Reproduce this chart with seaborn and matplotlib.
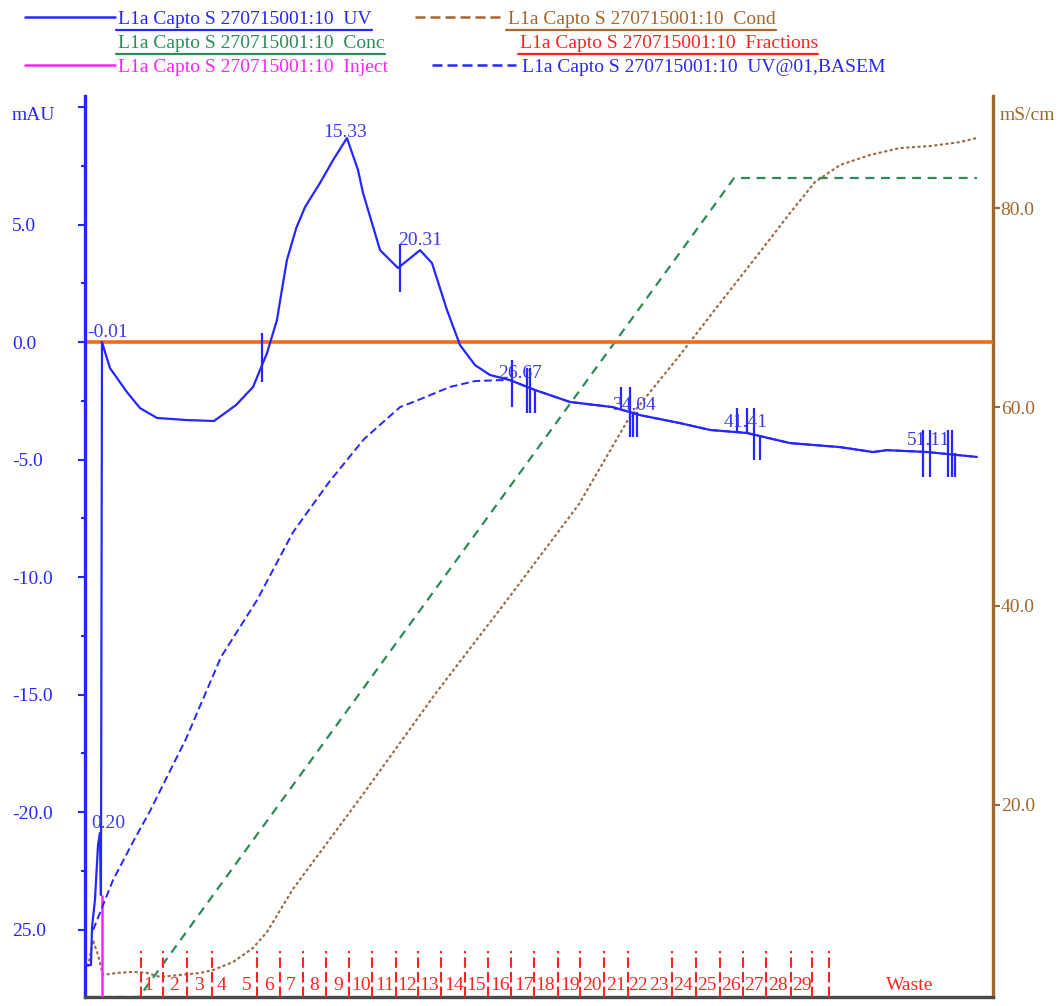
import matplotlib
matplotlib.use("Agg")
import matplotlib.pyplot as plt
import matplotlib.transforms as mtransforms
from matplotlib.lines import Line2D
import seaborn as sns

# ---------------- data ----------------
uv_ml = [-0.96, -0.70, -0.63, -0.44, -0.24, -0.11, -0.05, 0.02, 0.54, 1.65, 2.50, 3.61,
         5.57, 7.33, 8.77, 9.88, 10.79, 11.44, 11.76, 12.09, 12.70, 13.27, 14.25, 15.10,
         16.01, 16.73, 17.06, 18.17, 19.34, 20.78, 21.56, 22.54, 23.39, 24.37, 25.34,
         26.65, 28.28, 30.57, 33.37, 35.14, 37.75, 39.71, 42.12, 44.93, 48.19, 50.35,
         51.26, 53.87, 57.13]
uv_mau = [-26.51, -26.51, -24.89, -23.74, -21.40, -20.89, -23.53, 0.00, -1.11, -2.13, -2.81, -3.23,
          -3.32, -3.36, -2.68, -1.91, -0.47, 0.94, 2.21, 3.49, 4.85, 5.74, 6.77, 7.74,
          8.68, 7.32, 6.34, 3.91, 3.15, 3.91, 3.36, 1.36, -0.13, -0.98, -1.40,
          -1.62, -2.04, -2.55, -2.77, -3.11, -3.45, -3.74, -3.87, -4.30, -4.47, -4.68,
          -4.60, -4.68, -4.89]

basem_head_ml = [-0.56, 0.74, 2.11, 3.15, 5.50, 7.79, 10.14, 12.49, 14.84, 17.12, 19.47,
                 20.65, 22.73, 24.37, 26.00]
basem_head_mau = [-25.02, -22.89, -21.19, -19.96, -16.89, -13.40, -10.98, -8.09, -5.96, -4.13,
                  -2.77, -2.47, -1.91, -1.66, -1.62]

cond_ml = [-0.89, -0.57, -0.24, 0.08, 1.00, 2.04, 2.96, 3.81, 6.42, 7.28, 8.58, 9.88, 10.79,
           12.49, 17.12, 21.82, 26.46, 31.16, 34.42, 37.75, 40.36, 42.97, 44.93, 46.56,
           48.19, 50.15, 52.11, 54.07, 56.03, 57.13]
cond_mscm = [3.72, 6.43, 4.92, 2.91, 3.12, 3.22, 3.12, 2.71, 3.12, 3.42, 4.22, 5.63, 7.24,
             11.56, 21.21, 31.26, 40.60, 50.25, 58.89, 65.23, 70.45, 75.58, 79.50, 82.61,
             84.32, 85.33, 86.03, 86.23, 86.63, 87.04]

conc_ml = [-1.09, 2.44, 41.28, 57.13]
conc_val = [0.70, 0.70, 83.02, 83.02]

inject_ml = [0.02]
inject_top = [-23.53]

frac_lines_ml = [2.57, 4.00, 5.57, 7.20, 10.14, 11.64, 13.14, 14.64, 16.14, 17.64, 19.21,
                 20.65, 22.15, 23.72, 25.22, 26.72, 28.22, 29.78, 31.22, 32.79, 34.35,
                 37.23, 38.79, 40.36, 41.86, 43.36, 44.99, 46.36, 47.47]
frac_labels = ["1", "2", "3", "4", "5", "6", "7", "8", "9", "10", "11", "12", "13", "14",
               "15", "16", "17", "18", "19", "20", "21", "22", "23", "24", "25", "26", "27",
               "28", "29", "Waste"]
frac_label_ml = [3.06, 4.72, 6.35, 7.79, 9.46, 10.89, 12.32, 13.86, 15.42, 16.96, 18.49,
                 19.93, 21.36, 23.00, 24.43, 26.00, 27.54, 28.95, 30.57, 32.01, 33.58,
                 34.98, 36.35, 37.94, 39.51, 41.08, 42.58, 44.14, 45.69, 52.74]

peak_labels = ["-0.01", "0.20", "15.33", "20.31", "26.67", "34.04", "41.41", "51.11"]
peak_label_ml = [0.38, 0.44, 15.91, 20.81, 27.34, 34.71, 42.02, 54.00]
peak_label_mau = [0.21, -20.68, 8.74, 4.13, -1.53, -2.89, -3.62, -4.38]

marker_ml = [10.46, 19.47, 26.76, 27.74, 27.96, 28.28, 33.92, 34.48, 34.68, 34.92,
             41.45, 42.10, 42.58, 42.97, 53.61, 54.07, 55.24, 55.48, 55.70]
marker_top = [0.38, 4.17, -0.77, -1.11, -1.11, -2.04, -1.91, -1.91, -2.98, -2.98,
              -2.81, -2.81, -2.81, -4.04, -3.74, -3.74, -3.74, -3.74, -4.72]
marker_bottom = [-1.70, 2.13, -2.77, -3.02, -3.02, -3.02, -2.89, -4.04, -4.04, -4.04,
                 -3.87, -3.87, -5.02, -5.02, -5.74, -5.74, -5.74, -5.74, -5.74]

x_ticks = [0, 5, 10, 15, 20, 25, 30, 35, 40, 45, 50, 55]
left_ticks = [10, 5, 0, -5, -10, -15, -20, -25]
left_minor = [7.5, 2.5, -2.5, -7.5, -12.5, -17.5, -22.5]
left_tick_labels = ["", "5.0", "0.0", "-5.0", "-10.0", "-15.0", "-20.0", "25.0"]
right_ticks = [20, 40, 60, 80]
right_tick_labels = ["20.0", "40.0", "60.0", "80.0"]

legend_prefix = "L1a Capto S 270715001:10  "

# ---------------- style ----------------
sns.set_style("white")
plt.rcParams["font.family"] = ["Liberation Serif", "DejaVu Serif"]

BLUE = "#2626ff"
BROWN = "#a0682e"
GREEN = "#2e8b57"
RED = "#ff2222"
MAGENTA = "#ff22ff"
ORANGE = "#f26a1b"
GRAY = "#4a4a4a"
LABEL_BLUE = "#3b3be6"
FS = 14

W, H = 1058, 1006
fig = plt.figure(figsize=(W / 100, H / 100), dpi=100)
ax = fig.add_axes([85 / W, 1 - 997 / H, (993 - 85) / W, (997 - 96) / H])
ax2 = ax.twinx()
ax.set_zorder(ax2.get_zorder() + 1)
ax.patch.set_visible(False)

ax.set_xlim(-1.09, 58.18)
ax.set_ylim(-27.87, 10.47)
ax2.set_ylim(0.70, 91.26)

# right-axis curves
sns.lineplot(x=conc_ml, y=conc_val, ax=ax2, color=GREEN, lw=1.6, sort=False,
             estimator=None, linestyle=(0, (4, 3)))
sns.lineplot(x=cond_ml, y=cond_mscm, ax=ax2, color="#9a6a45", lw=1.5, sort=False,
             estimator=None, linestyle=(0, (1.5, 1.2)))

# left-axis items
ax.axhline(0, color=ORANGE, lw=2.6, zorder=2)
ax.vlines(inject_ml, ax.get_ylim()[0], inject_top, color=MAGENTA, lw=1.8, zorder=3)
basem_ml = basem_head_ml + [m for m in uv_ml if m > 26.6]
basem_mau = basem_head_mau + [v for m, v in zip(uv_ml, uv_mau) if m > 26.6]
sns.lineplot(x=basem_ml, y=basem_mau, ax=ax, color=BLUE, lw=1.4, sort=False,
             estimator=None, linestyle=(0, (4, 2)), zorder=4)
sns.lineplot(x=uv_ml, y=uv_mau, ax=ax, color=BLUE, lw=1.6, sort=False,
             estimator=None, zorder=5)
ax.vlines(marker_ml, marker_bottom, marker_top, color=BLUE, lw=1.6, zorder=6)

for lab, xm, ym in zip(peak_labels, peak_label_ml, peak_label_mau):
    ax.text(xm, ym, lab, color=LABEL_BLUE, fontsize=FS, ha="center", va="baseline",
            zorder=7)

# fractions
trans = mtransforms.blended_transform_factory(ax.transData, ax.transAxes)
for xm in frac_lines_ml:
    ax.plot([xm, xm], [0.0, 0.051], transform=trans, color=RED, lw=1.5,
            linestyle=(0, (5, 2)), zorder=3, clip_on=False)
for lab, xm in zip(frac_labels, frac_label_ml):
    ax.text(xm, 0.0075, lab, transform=trans, color=RED, fontsize=FS, ha="center",
            va="baseline", zorder=3)

# spines / ticks
for s in ["top", "right"]:
    ax.spines[s].set_visible(False)
ax.spines["left"].set_color(BLUE)
ax.spines["left"].set_linewidth(2.4)
ax.spines["bottom"].set_color(GRAY)
ax.spines["bottom"].set_linewidth(2.4)
for s in ["top", "left", "bottom"]:
    ax2.spines[s].set_visible(False)
ax2.spines["right"].set_color(BROWN)
ax2.spines["right"].set_linewidth(2.4)

ax.set_xticks(x_ticks)
ax.set_xticklabels([""] * len(x_ticks))
ax.tick_params(axis="x", direction="out", length=5, width=1.5, color="#777777")

ax.set_yticks(left_ticks)
ax.set_yticklabels(left_tick_labels)
ax.set_yticks(left_minor, minor=True)
ax.tick_params(axis="y", which="major", direction="out", length=5, width=1.5,
               color=BLUE, labelcolor=BLUE, labelsize=FS, pad=47.5)
ax.tick_params(axis="y", which="minor", direction="out", length=3, width=1.5, color=BLUE)
for t in ax.get_yticklabels():
    t.set_horizontalalignment("left")

ax2.set_yticks(right_ticks)
ax2.set_yticklabels(right_tick_labels)
ax2.tick_params(axis="y", direction="out", length=5, width=1.5, color=BROWN,
                labelcolor=BROWN, labelsize=FS, pad=0.5)
ax.set_xlabel("")
ax.set_ylabel("")
ax2.set_ylabel("")

# unit labels
fig.text(12 / W, 1 - 116 / H, "mAU", color=BLUE, fontsize=FS, ha="left", va="center")
fig.text(1000 / W, 1 - 115 / H, "mS/cm", color=BROWN, fontsize=FS, ha="left", va="center")

# ---------------- legend ----------------
def fx(p):
    return p / W


def fy(p):
    return 1 - p / H


def legline(x0, x1, y, color, ls="-", lw=1.8):
    fig.add_artist(Line2D([fx(x0), fx(x1)], [fy(y), fy(y)], color=color, lw=lw,
                          linestyle=ls, transform=fig.transFigure))


legend_rows = [
    (118, 24, "UV", BLUE, (25, 115, "-")),
    (508, 24, "Cond", BROWN, (415, 503, (0, (4, 2)))),
    (118, 48, "Conc", GREEN, None),
    (520, 48, "Fractions", RED, None),
    (118, 72, "Inject", MAGENTA, (25, 115, "-")),
    (522, 72, "UV@01,BASEM", BLUE, (432, 516, (0, (4, 2)))),
]
for x0, yb, name, col, sample in legend_rows:
    fig.text(fx(x0), fy(yb), legend_prefix + name, color=col, fontsize=FS,
             ha="left", va="baseline")
    if sample is not None:
        legline(sample[0], sample[1], yb - 7, col, ls=sample[2])

fig.canvas.draw()
renderer = fig.canvas.get_renderer()
for t in list(fig.texts):
    if t.get_text().startswith(legend_prefix):
        name = t.get_text()[len(legend_prefix):]
        if name in ("UV", "Cond", "Conc", "Fractions"):
            bb = t.get_window_extent(renderer)
            y = (bb.y0 - 3) / H + 0.0005
            fig.add_artist(Line2D([bb.x0 / W - 0.002, bb.x1 / W], [y, y],
                                  color=t.get_color(), lw=1.6, transform=fig.transFigure))

fig.savefig("out.png", dpi=100)
